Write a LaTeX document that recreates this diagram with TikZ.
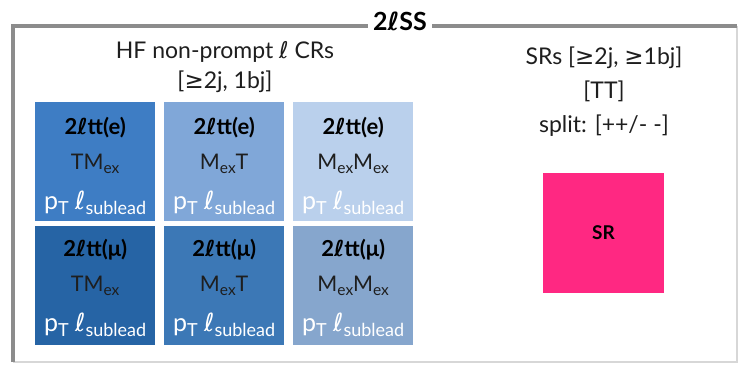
\documentclass[tikz,border=0pt]{standalone}
\usepackage{fontspec}
\setmainfont{Lato}
\newfontfamily\symfont{DejaVu Sans}
\newcommand\lsym{{\symfont ℓ}}
\newcommand\gesym{{\symfont ≥}}
\makeatletter
% text subscript at a fixed fraction of the current size
\newcommand\sbx[1]{{\dimen@=\f@size pt\dimen@=0.72\dimen@
  \raisebox{-0.35ex}{\fontsize{\strip@pt\dimen@}{1}\selectfont #1}}}
\makeatother

\definecolor{frameg}{RGB}{140,140,140}
\definecolor{framel}{RGB}{215,215,215}
\definecolor{ea}{RGB}{62,125,196}
\definecolor{eb}{RGB}{128,167,216}
\definecolor{ec}{RGB}{186,208,236}
\definecolor{ma}{RGB}{38,100,165}
\definecolor{mb}{RGB}{60,120,182}
\definecolor{mc}{RGB}{134,166,205}
\definecolor{srpink}{RGB}{255,40,130}
\definecolor{txt}{RGB}{30,30,30}

\tikzset{
  cell/.style={minimum width=120pt, minimum height=119pt, inner sep=0pt, anchor=north west},
  head/.style={font=\fontsize{22}{26}\selectfont\bfseries, text=black},
  mid/.style={font=\fontsize{21.5}{25}\selectfont, text=txt},
  low/.style={font=\fontsize{25}{30}\selectfont, text=white},
  caption/.style={font=\fontsize{23}{30}\selectfont, text=txt, align=center},
}

\begin{document}
\begin{tikzpicture}[x=1pt,y=-1pt]
\useasboundingbox (0,0) rectangle (741,364);

% outer frame
\coordinate (ftl) at (13,26);
\coordinate (ftr) at (737,26);
\coordinate (fbl) at (13,362);
\coordinate (fbr) at (737,362);
\draw[framel, line width=2pt] (ftr) -- (fbr) -- (fbl);
\draw[frameg, line width=3.5pt] (fbl) -- (ftl) -- (ftr);
\node[fill=white, inner xsep=5pt, inner ysep=1pt, font=\fontsize{25}{30}\selectfont\bfseries] (title) at (400,21) {2\lsym SS};

% control region captions
\node[caption] (crcap) at (225,67) {HF non-prompt \lsym\ CRs\\ {}[\gesym2j, 1bj]};
\node[caption, font=\fontsize{23}{34}\selectfont] (srcap) at (604,92) {SRs [\gesym2j, \gesym1bj]\\ {}[TT]\\ split: [++/- -]};

% electron row
\foreach \nm/\x/\col/\lab in {e1/35/ea/TM\sbx{ex}, e2/164/eb/M\sbx{ex}T, e3/293/ec/M\sbx{ex}M\sbx{ex}}{
  \node[cell, fill=\col] (\nm) at (\x,102) {};
  \node[head] at ([yshift=-26pt]\nm.north) {2\lsym tt(e)};
  \node[mid] at ([yshift=-62pt]\nm.north) {\lab};
  \node[low] at ([yshift=-101pt]\nm.north) {p\sbx{T} \lsym\sbx{sublead}};
}
% muon row
\foreach \nm/\x/\col/\lab in {m1/35/ma/TM\sbx{ex}, m2/164/mb/M\sbx{ex}T, m3/293/mc/M\sbx{ex}M\sbx{ex}}{
  \node[cell, fill=\col] (\nm) at (\x,226) {};
  \node[head] at ([yshift=-24pt]\nm.north) {2\lsym tt(μ)};
  \node[mid] at ([yshift=-60pt]\nm.north) {\lab};
  \node[low] at ([yshift=-99pt]\nm.north) {p\sbx{T} \lsym\sbx{sublead}};
}

% signal region
\node[fill=srpink, minimum width=121pt, minimum height=120pt, inner sep=0pt,
      font=\fontsize{19}{23}\selectfont\bfseries, text=black] (sr) at (603.5,233) {SR};
\end{tikzpicture}
\end{document}
